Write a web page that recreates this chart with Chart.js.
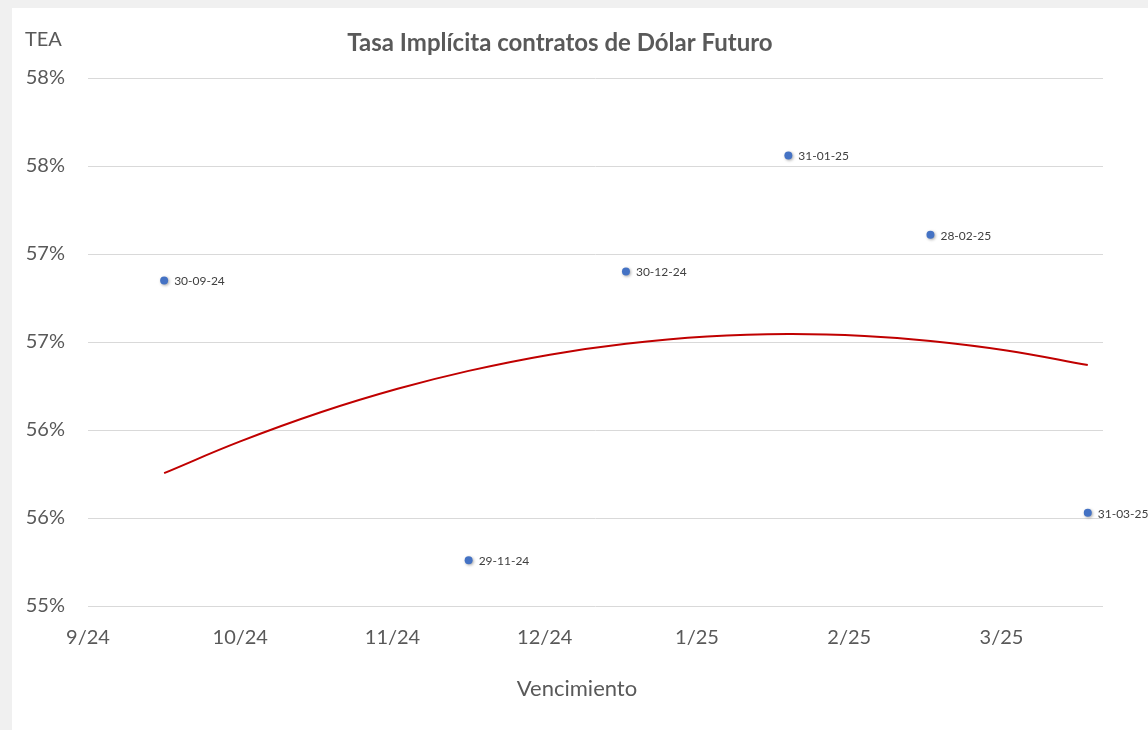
<!DOCTYPE html>
<html>
<head>
<meta charset="utf-8">
<title>Tasa Implícita contratos de Dólar Futuro</title>
<script src="https://cdn.jsdelivr.net/npm/chart.js@4.4.1/dist/chart.umd.min.js"></script>
<style>
  html, body { margin: 0; padding: 0; background: #f0f0f0; }
  #wrap { position: absolute; left: 12px; top: 8px; width: 1136px; height: 722px; background: #fff; }
</style>
</head>
<body>
<div id="wrap"><canvas id="chart" width="1136" height="722"></canvas></div>
<script>
// vencimientos y tasas (TEA, %)
const vencimientos = ['2024-09-30', '2024-11-29', '2024-12-30', '2025-01-31', '2025-02-28', '2025-03-31'];
const etiquetas = ['30-09-24', '29-11-24', '30-12-24', '31-01-25', '28-02-25', '31-03-25'];
const tasas = [56.85, 55.26, 56.90, 57.56, 57.11, 55.53];

// linea de tendencia
const tendFechas = ['2024-09-30', '2024-10-15', '2024-10-31', '2024-11-15', '2024-11-29', '2024-12-15',
  '2024-12-30', '2025-01-15', '2025-01-31', '2025-02-15', '2025-02-28', '2025-03-15', '2025-03-31'];
const tendValores = [55.755, 55.935, 56.102, 56.234, 56.336, 56.428, 56.490, 56.531, 56.545, 56.534, 56.506, 56.452, 56.369];

// ejes
const xMin = '2024-09-15';
const xMax = '2025-04-03';
const xTickFechas = ['2024-09-15', '2024-10-15', '2024-11-14', '2024-12-14', '2025-01-13', '2025-02-12', '2025-03-14'];
const xTickLabels = ['9/24', '10/24', '11/24', '12/24', '1/25', '2/25', '3/25'];
const yTicks = [55, 55.5, 56, 56.5, 57, 57.5, 58];
const yTickLabels = ['55%', '56%', '56%', '57%', '57%', '58%', '58%'];

const TEXT = '#595959';
const FONT = 'Lato, "Liberation Sans", sans-serif';

const dia = s => Date.UTC(+s.slice(0, 4), +s.slice(5, 7) - 1, +s.slice(8, 10)) / 86400000;

const textos = {
  id: 'textos',
  afterDraw(chart) {
    const ctx = chart.ctx;
    ctx.save();
    ctx.fillStyle = TEXT;
    ctx.textBaseline = 'middle';
    ctx.font = 'bold 24px ' + FONT;
    ctx.textAlign = 'center';
    ctx.fillText('Tasa Implícita contratos de Dólar Futuro', 548, 35);
    ctx.font = '20px ' + FONT;
    ctx.textAlign = 'left';
    ctx.fillText('TEA', 13, 32);
    ctx.font = '22px ' + FONT;
    ctx.textAlign = 'center';
    ctx.fillText('Vencimiento', 565, 681);
    ctx.restore();
  },
  afterDatasetsDraw(chart) {
    const meta = chart.getDatasetMeta(1);
    const ctx = chart.ctx;
    ctx.save();
    ctx.fillStyle = '#404040';
    ctx.font = '12px ' + FONT;
    ctx.textAlign = 'left';
    ctx.textBaseline = 'middle';
    meta.data.forEach((p, i) => ctx.fillText(etiquetas[i], p.x + 10, p.y + 1));
    ctx.restore();
  },
  beforeDatasetDraw(chart, args) {
    if (args.index !== 1) return;
    const ctx = chart.ctx;
    ctx.save();
    ctx.shadowColor = 'rgba(0,0,0,0.35)';
    ctx.shadowBlur = 3;
    ctx.shadowOffsetX = 1;
    ctx.shadowOffsetY = 1;
  },
  afterDatasetDraw(chart, args) {
    if (args.index !== 1) return;
    chart.ctx.restore();
  }
};

new Chart(document.getElementById('chart'), {
  type: 'scatter',
  data: {
    datasets: [
      {
        label: 'Tendencia',
        type: 'line',
        data: tendFechas.map((f, i) => ({ x: dia(f), y: tendValores[i] })),
        borderColor: '#c00000',
        borderWidth: 2,
        pointRadius: 0,
        tension: 0.4,
        fill: false,
      },
      {
        label: 'TEA',
        data: vencimientos.map((f, i) => ({ x: dia(f), y: tasas[i] })),
        backgroundColor: '#4472c4',
        borderColor: '#4472c4',
        pointRadius: 4,
        pointBorderWidth: 0,
      },
    ]
  },
  options: {
    responsive: false,
    animation: false,
    layout: { padding: { top: 70, right: 45, left: 0, bottom: 0 } },
    plugins: {
      legend: { display: false },
      tooltip: { enabled: false },
    },
    scales: {
      x: {
        type: 'linear',
        min: dia(xMin),
        max: dia(xMax),
        afterBuildTicks: s => { s.ticks = xTickFechas.map(f => ({ value: dia(f) })); },
        afterFit: s => { s.height = 124; },
        ticks: {
          color: TEXT,
          font: { family: FONT, size: 20 },
          padding: 20,
          maxRotation: 0,
          autoSkip: false,
          callback: (v, i) => xTickLabels[i],
        },
        grid: { display: false, drawTicks: false },
        border: { display: false },
      },
      y: {
        min: 55,
        max: 58,
        afterBuildTicks: s => { s.ticks = yTicks.map(v => ({ value: v })); },
        afterFit: s => { s.width = 76; },
        ticks: {
          color: TEXT,
          font: { family: FONT, size: 20 },
          padding: 23,
          autoSkip: false,
          callback: (v, i) => yTickLabels[i],
        },
        grid: { color: '#d9d9d9', lineWidth: 1, drawTicks: false },
        border: { display: false },
      },
    },
  },
  plugins: [textos],
});
</script>
</body>
</html>
